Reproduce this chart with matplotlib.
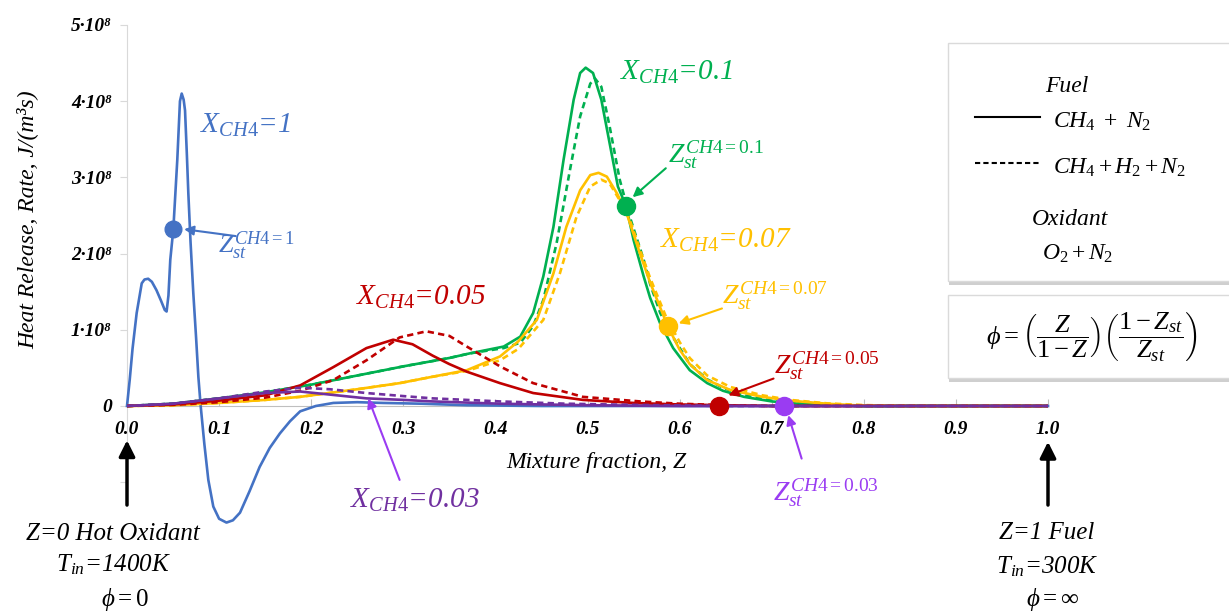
import matplotlib
matplotlib.use("Agg")
import matplotlib.pyplot as plt
from matplotlib.patches import Rectangle
from matplotlib.lines import Line2D

plt.rcParams['font.family'] = ['Liberation Serif', 'DejaVu Serif']
plt.rcParams['mathtext.fontset'] = 'custom'
plt.rcParams['mathtext.rm'] = 'Liberation Serif'
plt.rcParams['mathtext.it'] = 'Liberation Serif:italic'
plt.rcParams['mathtext.bf'] = 'Liberation Serif:bold'

# heat release rate, units of 1e8 J/(m3 s), vs mixture fraction Z
# X_CH4 = 1 (solid only)
z_ch4_1 = [0.000, 0.003, 0.006, 0.0105, 0.016, 0.019, 0.023, 0.027, 0.032, 0.037,
           0.041, 0.043, 0.045, 0.047, 0.0503, 0.0546, 0.0575, 0.0594, 0.0615, 0.063,
           0.065, 0.0666, 0.069, 0.072, 0.075, 0.0775, 0.080, 0.084, 0.0883, 0.0937,
           0.100, 0.108, 0.115, 0.1227, 0.133, 0.144, 0.155, 0.166, 0.177, 0.188,
           0.205, 0.224, 0.25, 0.278, 0.32, 0.369, 0.45, 0.6, 0.8, 1.0]
q_ch4_1 = [0.00, 0.35, 0.75, 1.22, 1.61, 1.66, 1.67, 1.63, 1.52, 1.38,
           1.26, 1.24, 1.45, 1.92, 2.32, 3.23, 4.00, 4.10, 4.02, 3.88,
           3.30, 2.79, 2.15, 1.48, 0.90, 0.38, 0.00, -0.50, -0.97, -1.32,
           -1.48, -1.53, -1.50, -1.40, -1.12, -0.80, -0.55, -0.36, -0.20, -0.07,
           0.00, 0.04, 0.05, 0.04, 0.03, 0.01, 0.00, 0.00, 0.00, 0.00]

# X_CH4 = 0.1
z_ch4_01 = [0.0, 0.05, 0.1, 0.15, 0.2, 0.25, 0.3, 0.35, 0.372, 0.409, 0.427, 0.441, 0.452,
            0.463, 0.474, 0.485, 0.492, 0.498, 0.506, 0.515, 0.524, 0.533, 0.542, 0.550,
            0.561, 0.568, 0.579, 0.593, 0.611, 0.63, 0.647, 0.67, 0.70, 0.73, 0.76, 0.8, 0.9, 1.0]
q_ch4_01 = [0.0, 0.03, 0.10, 0.18, 0.28, 0.40, 0.52, 0.63, 0.69, 0.78, 0.91, 1.22, 1.70,
            2.35, 3.23, 4.02, 4.37, 4.44, 4.37, 4.02, 3.45, 2.88, 2.62, 2.18,
            1.70, 1.42, 1.08, 0.76, 0.47, 0.30, 0.20, 0.12, 0.06, 0.03, 0.01, 0.0, 0.0, 0.0]
z_ch4_01_h2 = [0.0, 0.05, 0.1, 0.15, 0.2, 0.25, 0.3, 0.35, 0.372, 0.409, 0.427, 0.441, 0.452,
               0.4665, 0.481, 0.492, 0.503, 0.508, 0.515, 0.524, 0.535, 0.546, 0.561, 0.568,
               0.579, 0.593, 0.611, 0.63, 0.647, 0.67, 0.70, 0.73, 0.76, 0.8, 0.9, 1.0]
q_ch4_01_h2 = [0.0, 0.03, 0.10, 0.18, 0.28, 0.40, 0.52, 0.63, 0.69, 0.76, 0.83, 1.05, 1.39,
               2.14, 3.10, 3.80, 4.23, 4.30, 4.19, 3.67, 2.97, 2.48, 1.92, 1.60,
               1.22, 0.90, 0.55, 0.35, 0.24, 0.14, 0.07, 0.035, 0.015, 0.0, 0.0, 0.0]

# X_CH4 = 0.07
z_ch4_007 = [0.0, 0.05, 0.1, 0.15, 0.188, 0.25, 0.296, 0.33, 0.369, 0.405,
             0.425, 0.445, 0.463, 0.477, 0.492, 0.503, 0.512, 0.521, 0.532, 0.5425,
             0.557, 0.568, 0.587, 0.60, 0.611, 0.63, 0.655, 0.69, 0.72, 0.76, 0.79, 0.85, 1.0]
q_ch4_007 = [0.0, 0.01, 0.04, 0.08, 0.12, 0.22, 0.30, 0.38, 0.47, 0.65,
             0.85, 1.13, 1.74, 2.35, 2.83, 3.03, 3.06, 3.01, 2.79, 2.53,
             2.00, 1.62, 1.05, 0.74, 0.55, 0.34, 0.21, 0.12, 0.07, 0.03, 0.01, 0.0, 0.0]
z_ch4_007_h2 = [0.0, 0.05, 0.1, 0.15, 0.188, 0.25, 0.296, 0.33, 0.369, 0.405,
                0.425, 0.452, 0.470, 0.488, 0.503, 0.515, 0.524, 0.535, 0.546, 0.557,
                0.568, 0.586, 0.60, 0.611, 0.63, 0.655, 0.69, 0.72, 0.76, 0.80, 0.85, 1.0]
q_ch4_007_h2 = [0.0, 0.01, 0.04, 0.08, 0.12, 0.22, 0.30, 0.38, 0.46, 0.60,
                0.75, 1.13, 1.74, 2.48, 2.88, 2.97, 2.92, 2.70, 2.44, 2.05,
                1.68, 1.15, 0.84, 0.63, 0.40, 0.25, 0.14, 0.08, 0.035, 0.012, 0.0, 0.0]

# X_CH4 = 0.05
z_ch4_005 = [0.0, 0.05, 0.1, 0.15, 0.188, 0.224, 0.26, 0.289, 0.31, 0.332,
             0.35, 0.369, 0.405, 0.441, 0.495, 0.55, 0.6, 0.65, 0.7, 1.0]
q_ch4_005 = [0.0, 0.02, 0.07, 0.14, 0.27, 0.51, 0.76, 0.87, 0.81, 0.66,
             0.55, 0.45, 0.30, 0.17, 0.08, 0.04, 0.02, 0.01, 0.0, 0.0]
z_ch4_005_h2 = [0.0, 0.05, 0.1, 0.15, 0.188, 0.224, 0.26, 0.296, 0.325, 0.35,
                0.369, 0.405, 0.441, 0.495, 0.557, 0.6, 0.65, 0.7, 1.0]
q_ch4_005_h2 = [0.0, 0.015, 0.05, 0.11, 0.20, 0.34, 0.60, 0.90, 0.98, 0.92,
                0.78, 0.52, 0.30, 0.12, 0.06, 0.03, 0.01, 0.0, 0.0]

# X_CH4 = 0.03
z_ch4_003 = [0.0, 0.05, 0.1, 0.15, 0.188, 0.22, 0.26, 0.3, 0.332, 0.405, 0.5, 0.6, 1.0]
q_ch4_003 = [0.0, 0.03, 0.10, 0.17, 0.19, 0.15, 0.10, 0.08, 0.06, 0.03, 0.01, 0.0, 0.0]
z_ch4_003_h2 = [0.0, 0.05, 0.1, 0.15, 0.188, 0.22, 0.26, 0.3, 0.332, 0.405, 0.477, 0.55, 0.65, 1.0]
q_ch4_003_h2 = [0.0, 0.03, 0.10, 0.19, 0.24, 0.22, 0.17, 0.13, 0.10, 0.06, 0.03, 0.015, 0.0, 0.0]

# stoichiometric mixture fraction points (X_CH4 = 1, 0.1, 0.07, 0.05, 0.03)
zst = [0.0503, 0.542, 0.587, 0.643, 0.713]
q_zst = [2.32, 2.62, 1.05, 0.0, 0.0]

xticks = [0.0, 0.1, 0.2, 0.3, 0.4, 0.5, 0.6, 0.7, 0.8, 0.9, 1.0]
yticks = [-1, 0, 1, 2, 3, 4, 5]
ytick_labels = ['', '0', '1·10⁸', '2·10⁸', '3·10⁸', '4·10⁸', '5·10⁸']

blue, green, yellow, red, purple = '#4472C4', '#00B050', '#FFC000', '#C00000', '#7030A0'
violet = '#9A3CF2'

W, H = 1229, 612
fig = plt.figure(figsize=(W / 100, H / 100), dpi=100)
ax = fig.add_axes([127 / W, 1 - 535 / H, 921 / W, 510 / H])
ax.set_xlim(0, 1)
ax.set_ylim(-1.693, 5.0)

lw = 1.9
dash = (2.4, 1.6)
ax.plot(z_ch4_1, q_ch4_1, color=blue, lw=lw, zorder=3, clip_on=False)
ax.plot(z_ch4_01, q_ch4_01, color=green, lw=lw, zorder=3)
ax.plot(z_ch4_01_h2, q_ch4_01_h2, color=green, lw=lw, dashes=dash, zorder=3)
ax.plot(z_ch4_007, q_ch4_007, color=yellow, lw=lw, zorder=3)
ax.plot(z_ch4_007_h2, q_ch4_007_h2, color=yellow, lw=lw, dashes=dash, zorder=3)
ax.plot(z_ch4_005, q_ch4_005, color=red, lw=lw, zorder=3)
ax.plot(z_ch4_005_h2, q_ch4_005_h2, color=red, lw=lw, dashes=dash, zorder=3)
ax.plot(z_ch4_003, q_ch4_003, color=purple, lw=lw, zorder=3)
ax.plot(z_ch4_003_h2, q_ch4_003_h2, color=purple, lw=lw, dashes=dash, zorder=3)

dot_colors = [blue, green, yellow, red, violet]
dot_sizes = [12, 13, 13, 13, 13]
for x, y, c, s in zip(zst, q_zst, dot_colors, dot_sizes):
    ax.plot(x, y, 'o', color=c, ms=s, zorder=5, clip_on=False)

# axes look
for s in ['top', 'right']:
    ax.spines[s].set_visible(False)
ax.spines['bottom'].set_position(('data', 0))
ax.spines['bottom'].set_color('#BFBFBF')
ax.spines['left'].set_color('#D9D9D9')
ax.spines['left'].set_bounds(-1.1, 5)
ax.set_xticks(xticks)
ax.set_xticklabels(['%.1f' % t for t in xticks])
ax.set_yticks(yticks)
ax.set_yticklabels(ytick_labels)
ax.tick_params(axis='x', direction='in', length=5, color='#BFBFBF', pad=11, labelsize=14)
ax.tick_params(axis='y', direction='out', length=5, color='#D9D9D9', pad=6, labelsize=14)
for lbl in ax.get_xticklabels() + ax.get_yticklabels():
    lbl.set_fontweight('bold')
    lbl.set_fontstyle('italic')

ax.text(0.51, -0.81, 'Mixture fraction, Z', style='italic', fontsize=17, ha='center', va='baseline')
fig.text(27 / W, 1 - 220 / H, 'Heat Release, Rate, J/(m³s)', style='italic', fontsize=17,
         rotation=90, ha='center', va='center')

# curve labels
ax.text(0.0793, 3.58, r'$\mathit{X_{CH4}}$=1', style='italic', color=blue, fontsize=21)
ax.text(0.535, 4.28, r'$\mathit{X_{CH4}}$=0.1', style='italic', color=green, fontsize=21)
ax.text(0.579, 2.07, r'$\mathit{X_{CH4}}$=0.07', style='italic', color=yellow, fontsize=21)
ax.text(0.249, 1.33, r'$\mathit{X_{CH4}}$=0.05', style='italic', color=red, fontsize=21)
ax.text(0.242, -1.33, r'$\mathit{X_{CH4}}$=0.03', style='italic', color=purple, fontsize=21)

ax.text(0.0988, 2.01, r'$\mathit{Z_{st}^{CH4{=}1}}$', color=blue, fontsize=19)
ax.text(0.587, 3.20, r'$\mathit{Z_{st}^{CH4{=}0.1}}$', color=green, fontsize=20)
ax.text(0.646, 1.35, r'$\mathit{Z_{st}^{CH4{=}0.07}}$', color=yellow, fontsize=20)
ax.text(0.702, 0.43, r'$\mathit{Z_{st}^{CH4{=}0.05}}$', color=red, fontsize=20)
ax.text(0.701, -1.23, r'$\mathit{Z_{st}^{CH4{=}0.03}}$', color=violet, fontsize=20)


def arrow(tail, head, c, lw=1.5, ms=14):
    ax.annotate('', xy=head, xytext=tail, annotation_clip=False,
                arrowprops=dict(arrowstyle='-|>', color=c, lw=lw, mutation_scale=ms,
                                shrinkA=0, shrinkB=0))


arrow((0.118, 2.23), (0.062, 2.32), blue)
arrow((0.585, 3.12), (0.549, 2.74), green)
arrow((0.646, 1.28), (0.599, 1.085), yellow)
arrow((0.702, 0.36), (0.653, 0.14), red)
arrow((0.296, -0.97), (0.262, 0.10), violet)
arrow((0.7325, -0.69), (0.718, -0.12), violet)
arrow((0.0, -1.30), (0.0, -0.45), 'black', lw=2.5, ms=24)
arrow((1.0, -1.30), (1.0, -0.47), 'black', lw=2.5, ms=24)

# boundary notes
for x, y, s in [(-0.0152, -1.76, 'Z=0 Hot Oxidant'), (-0.0152, -2.17, r'T$_{in}$=1400K'),
                (-0.002, -2.63, r'$\phi = 0$'),
                (0.999, -1.74, 'Z=1 Fuel'), (0.999, -2.20, r'T$_{in}$=300K'),
                (1.005, -2.63, r'$\phi = \infty$')]:
    ax.text(x, y, s, style='italic', fontsize=18, ha='center', va='baseline')


# legend boxes
def fp(x, y):
    return x / W, 1 - y / H


def box(x0, y0, x1, y1):
    fig.add_artist(Rectangle(fp(x0 + 1, y1 + 4), (x1 - x0) / W, (y1 - y0) / H,
                             transform=fig.transFigure, facecolor='#CFCFCF', edgecolor='none',
                             zorder=1))
    fig.add_artist(Rectangle(fp(x0, y1), (x1 - x0) / W, (y1 - y0) / H, transform=fig.transFigure,
                             facecolor='white', edgecolor='#DADADA', lw=1, zorder=2))


box(948, 43, 1232, 281)
box(948, 295, 1232, 378)

fig.text(*fp(1067, 92), 'Fuel', style='italic', fontsize=17, ha='center', va='baseline', zorder=3)
fig.add_artist(Line2D([975 / W, 1040 / W], [1 - 117 / H, 1 - 117 / H], color='black', lw=1.5, zorder=3))
fig.add_artist(Line2D([975 / W, 1040 / W], [1 - 163 / H, 1 - 163 / H], color='black', lw=1.5,
                      dashes=(2.5, 1.5), zorder=3))
fig.text(*fp(1053, 128), r'$\mathit{CH_4\ +\ N_2}$', fontsize=17, va='baseline', zorder=3)
fig.text(*fp(1053, 174), r'$\mathit{CH_4 + H_2 + N_2}$', fontsize=17, va='baseline', zorder=3)
fig.text(*fp(1070, 225), 'Oxidant', style='italic', fontsize=17, ha='center', va='baseline', zorder=3)
fig.text(*fp(1042, 260), r'$\mathit{O_2 + N_2}$', fontsize=17, va='baseline', zorder=3)
fig.text(*fp(1092, 337), r'$\phi = \left(\dfrac{Z}{1-Z}\right)\left(\dfrac{1-Z_{st}}{Z_{st}}\right)$',
         fontsize=19, ha='center', va='center', zorder=3)

fig.savefig('out.png', dpi=100)
